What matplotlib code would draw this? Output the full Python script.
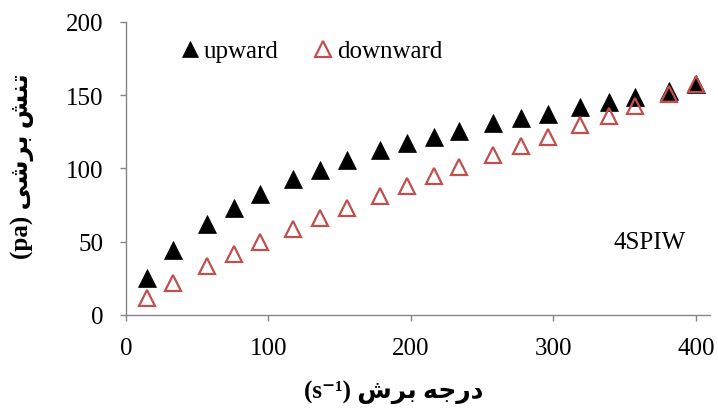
import matplotlib
matplotlib.use("Agg")
import matplotlib.pyplot as plt

# ---- data ----
shear_rate = [15, 33, 57, 76, 94, 117, 136, 155, 178, 197, 216, 234,
              258, 277, 296, 319, 339, 357, 381, 400]
upward = [25.2, 44.5, 62.2, 73.1, 82.2, 92.6, 99.2, 105.5, 112.6, 117.6,
          121.5, 125.6, 130.8, 134.2, 137.4, 142.0, 145.0, 148.4, 153.0, 157.2]
downward = [11.7, 21.7, 33.2, 41.8, 49.8, 58.9, 66.1, 73.0, 81.4, 88.0,
            94.6, 101.1, 109.1, 115.2, 121.4, 129.3, 135.6, 142.2, 150.4, 157.2]
x_ticks = [0, 100, 200, 300, 400]
y_ticks = [0, 50, 100, 150, 200]
series_names = ["upward", "downward"]
sample_name = "4SPIW"

# Persian labels, written in visual order with Arabic presentation forms
# "تنش برشی (pa)"
y_label = "(pa) " + "\uFBFD\uFEB7\uFEAE\uFE91" + " " + "\uFEB6\uFEE8\uFE97"
# "درجه برش (s-1)"
x_label = "(s\u207B\u00B9) " + "\uFEB5\uFEAE\uFE91" + " " + "\uFEEA\uFE9F\uFEAD\uFEA9"

plt.rcParams['font.family'] = ['Liberation Serif', 'DejaVu Sans']
FS = 18
GRAY = "#868686"
RED = "#C0504D"

fig = plt.figure(figsize=(7.18, 4.14), dpi=100)
ax = fig.add_axes([126 / 718, 1 - 316 / 414, 584 / 718, 293.3 / 414])

ax.plot(shear_rate, upward, linestyle="none", marker="^", ms=12.8,
        mfc="black", mec="black", mew=0.5, label=series_names[0], zorder=3)
ax.plot(shear_rate, downward, linestyle="none", marker="^", ms=12.2,
        mfc="none", mec=RED, mew=1.6, label=series_names[1], zorder=4)

ax.set_xlim(0, 410)
ax.set_ylim(0, 200)
ax.set_xticks(x_ticks)
ax.set_yticks(y_ticks)
ax.tick_params(axis="both", direction="out", length=4.5, width=1.0,
               color=GRAY, labelsize=FS, labelcolor="black", pad=11.5)

for side in ("top", "right"):
    ax.spines[side].set_visible(False)
for side in ("left", "bottom"):
    ax.spines[side].set_color(GRAY)
    ax.spines[side].set_linewidth(1.0)

ax.set_xlabel(x_label, fontsize=FS, fontweight="bold", va="center", ha="center")
ax.xaxis.set_label_coords(0.459, -0.259)
ax.set_ylabel(y_label, fontsize=FS, fontweight="bold", va="center", ha="center",
              rotation_mode="anchor")
ax.yaxis.set_label_coords(-0.178, 0.511)

ax.text(342, 50, sample_name, fontsize=FS, ha="left", va="center")

ax.legend(loc="center left", bbox_to_anchor=(0.096, 0.900), ncol=2,
          frameon=False, fontsize=FS, handlelength=0.6, handletextpad=0.25,
          columnspacing=1.5, borderpad=0, borderaxespad=0, markerscale=0.9)

fig.savefig("out.png", dpi=100)
